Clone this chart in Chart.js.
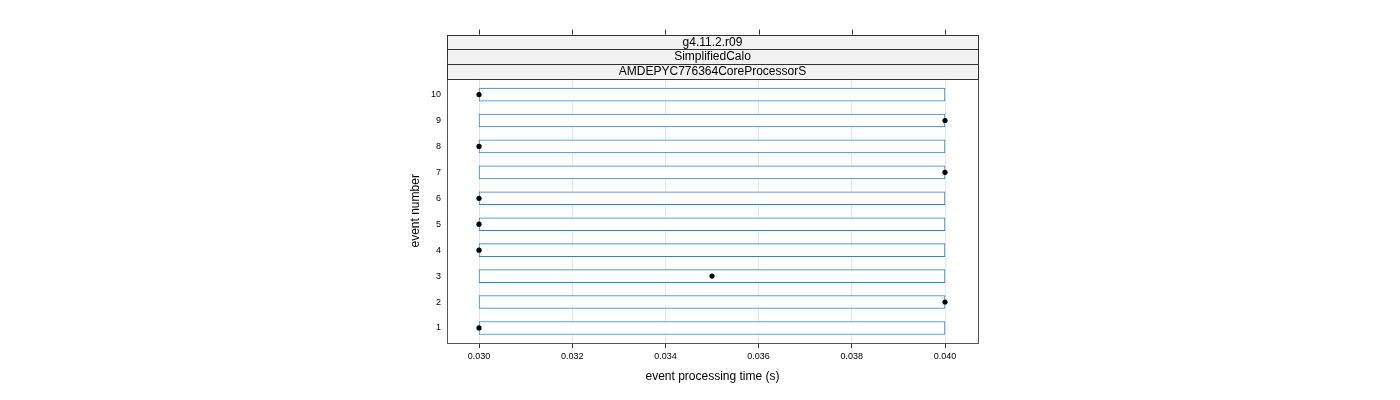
<!DOCTYPE html>
<html>
<head>
<meta charset="utf-8">
<script src="https://cdn.jsdelivr.net/npm/chart.js@4/dist/chart.umd.min.js"></script>
<style>
  html, body { margin: 0; padding: 0; background: #ffffff; }
  #wrap { position: relative; width: 1400px; height: 400px; }
</style>
</head>
<body>
<div id="wrap"><canvas id="c" width="1400" height="400"></canvas></div>
<script>
// ---- data ----
const eventNumbers = [1, 2, 3, 4, 5, 6, 7, 8, 9, 10];
const eventTimes   = [0.030, 0.040, 0.035, 0.030, 0.030, 0.030, 0.040, 0.030, 0.040, 0.030];
const rangeLow     = [0.030, 0.030, 0.030, 0.030, 0.030, 0.030, 0.030, 0.030, 0.030, 0.030];
const rangeHigh    = [0.040, 0.040, 0.040, 0.040, 0.040, 0.040, 0.040, 0.040, 0.040, 0.040];
const xTickValues  = [0.030, 0.032, 0.034, 0.036, 0.038, 0.040];
const yTickValues  = [1, 2, 3, 4, 5, 6, 7, 8, 9, 10];
const stripLabels  = ['g4.11.2.r09', 'SimplifiedCalo', 'AMDEPYC776364CoreProcessorS'];
const xTitle = 'event processing time (s)';
const yTitle = 'event number';

const FONT = '"Liberation Sans", Arial, sans-serif';

const barData = eventNumbers.map((e, i) => ({ y: e, x: [rangeLow[i], rangeHigh[i]] }));
const pointData = eventNumbers.map((e, i) => ({ x: eventTimes[i], y: e }));

const panelPlugin = {
  id: 'panel',
  afterDraw(chart) {
    const { ctx, chartArea: a, scales } = chart;
    ctx.save();
    // panel border
    ctx.strokeStyle = '#555555';
    ctx.lineWidth = 1;
    ctx.strokeRect(Math.round(a.left) + 0.5, Math.round(a.top) + 0.5,
                   Math.round(a.right - a.left), Math.round(a.bottom - a.top));
    // strips
    const stripH = 14.67;
    const stripTop = a.top - stripH * stripLabels.length;
    for (let i = 0; i < stripLabels.length; i++) {
      const y0 = stripTop + i * stripH;
      ctx.fillStyle = '#f2f2f2';
      ctx.fillRect(a.left, y0, a.right - a.left, stripH);
      ctx.strokeStyle = '#333333';
      ctx.strokeRect(Math.round(a.left) + 0.5, Math.round(y0) + 0.5,
                     Math.round(a.right - a.left), Math.round(stripH));
      ctx.fillStyle = '#000000';
      ctx.font = '12px ' + FONT;
      ctx.textAlign = 'center';
      ctx.textBaseline = 'middle';
      ctx.fillText(stripLabels[i], (a.left + a.right) / 2, y0 + stripH / 2 + 0.5);
    }
    // top ticks
    ctx.strokeStyle = '#333333';
    ctx.beginPath();
    xTickValues.forEach(v => {
      const px = Math.round(scales.x.getPixelForValue(v)) + 0.5;
      ctx.moveTo(px, stripTop);
      ctx.lineTo(px, stripTop - 5);
    });
    ctx.stroke();
    ctx.restore();
  }
};

new Chart(document.getElementById('c'), {
  data: {
    datasets: [
      {
        type: 'bar',
        indexAxis: 'y',
        data: barData,
        backgroundColor: '#ffffff',
        borderColor: '#2a84c6',
        borderWidth: 1,
        borderSkipped: false,
        barThickness: 13,
        order: 2
      },
      {
        type: 'scatter',
        data: pointData,
        backgroundColor: '#000000',
        borderColor: '#000000',
        pointRadius: 2.6,
        pointHoverRadius: 2.6,
        borderWidth: 0,
        order: 1
      }
    ]
  },
  options: {
    responsive: false,
    animation: false,
    events: [],
    layout: { padding: { left: 400, right: 422, top: 78.6, bottom: 7 } },
    plugins: { legend: { display: false }, tooltip: { enabled: false } },
    scales: {
      x: {
        type: 'linear',
        position: 'bottom',
        offset: false,
        min: 0.029313,
        max: 0.040708,
        afterBuildTicks: s => { s.ticks = xTickValues.map(v => ({ value: v })); },
        afterFit: s => { s.height = 50; },
        grid: { display: true, color: '#e6e6e6', drawTicks: true, tickLength: 5, tickColor: '#333333', lineWidth: 1 },
        border: { display: false },
        ticks: { font: { family: FONT, size: 9 }, color: '#000000', padding: 3, maxRotation: 0,
                 callback: v => Number(v).toFixed(3) },
        title: { display: true, text: xTitle, font: { family: FONT, size: 12 }, color: '#000000',
                 padding: { top: 0, bottom: 9 } }
      },
      y: {
        type: 'linear',
        position: 'left',
        offset: false,
        min: 0.42,
        max: 10.615,
        afterBuildTicks: s => { s.ticks = yTickValues.map(v => ({ value: v })); },
        afterFit: s => { s.width = 47; },
        grid: { display: false, drawTicks: false },
        border: { display: false },
        ticks: { font: { family: FONT, size: 9 }, color: '#000000', padding: 6,
                 callback: v => String(v) },
        title: { display: true, text: yTitle, font: { family: FONT, size: 12 }, color: '#000000',
                 padding: { top: 8, bottom: 0 } }
      }
    }
  },
  plugins: [panelPlugin]
});
</script>
</body>
</html>
